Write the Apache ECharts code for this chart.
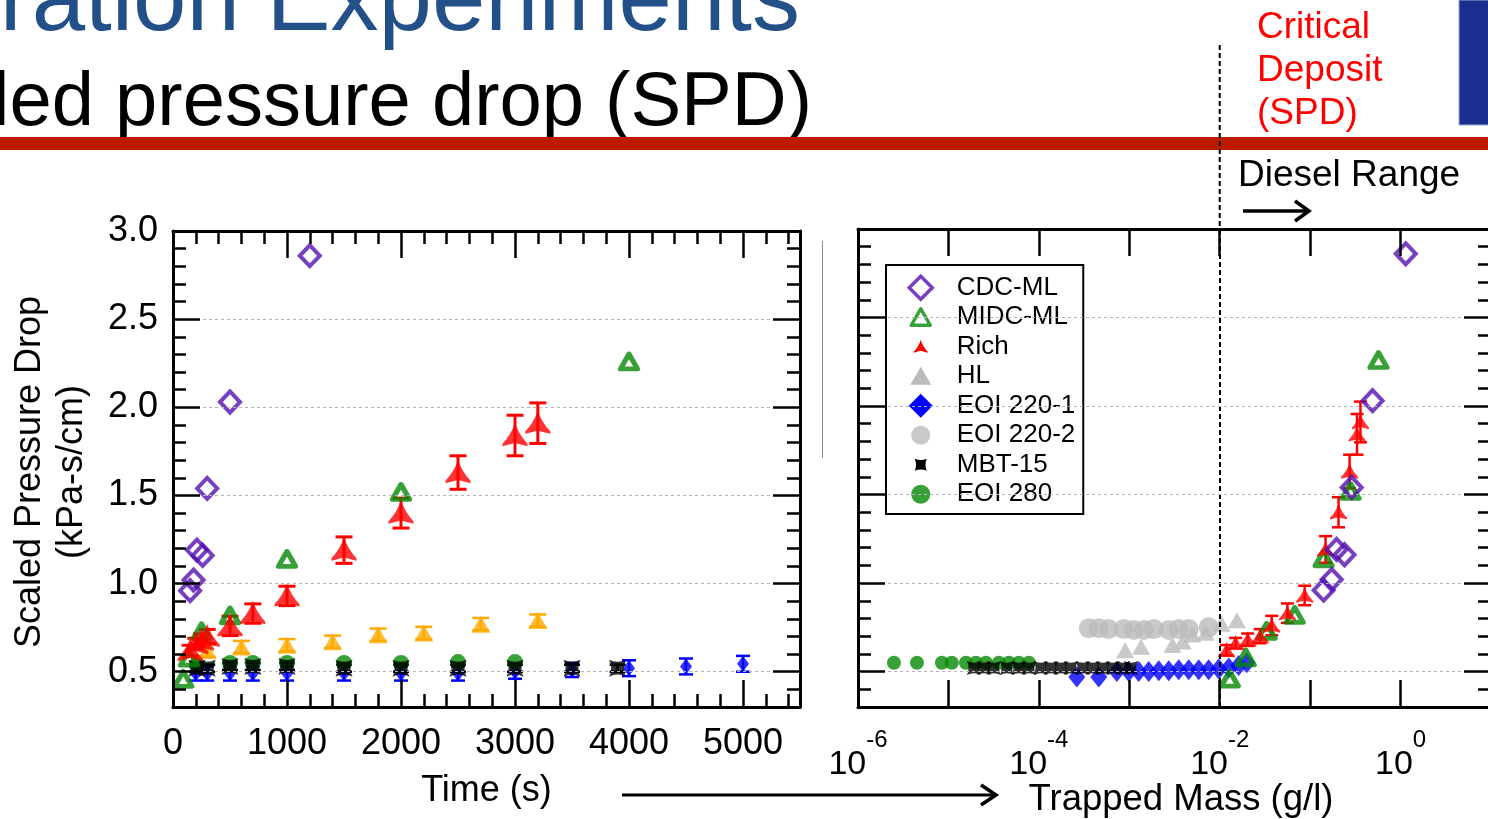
<!DOCTYPE html>
<html>
<head>
<meta charset="utf-8">
<script src="https://cdn.jsdelivr.net/npm/echarts@6/dist/echarts.min.js"></script>
<style>
  html, body { margin: 0; padding: 0; background: #fff; }
  #chart { width: 1488px; height: 819px; }
</style>
</head>
<body>
<div id="chart"></div>
<script>
// ---------- series readings ----------
// CDC-ML
const cdcTime = [150, 180, 210, 260, 300, 500, 1200];
const cdcMass = [0.141, 0.173, 0.196, 0.24, 0.288, 0.49, 1.14];
const cdcSpd  = [0.96, 1.02, 1.19, 1.16, 1.54, 2.03, 2.86];

// MIDC-ML
const midcTime = [90, 140, 250, 500, 1000, 2000, 4000];
const midcMass = [0.0129, 0.0194, 0.033, 0.0675, 0.141, 0.28, 0.57];
const midcSpd  = [0.46, 0.58, 0.73, 0.82, 1.14, 1.52, 2.26];

// Rich
const richTime = [150, 200, 250, 300, 500, 700, 1000, 1500, 2000, 2500, 3000, 3200];
const richMass = [0.0119, 0.015, 0.0204, 0.028, 0.0376, 0.056, 0.087, 0.148, 0.206, 0.273, 0.33, 0.36];
const richSpd  = [0.62, 0.66, 0.68, 0.70, 0.76, 0.83, 0.93, 1.19, 1.40, 1.63, 1.84, 1.91];
const richErr  = [0.03, 0.03, 0.035, 0.04, 0.055, 0.055, 0.055, 0.075, 0.085, 0.095, 0.115, 0.115];

// HL
const hlTime = [300, 600, 1000, 1400, 1800, 2200, 2700, 3200];
const hlMass = [0.0009, 0.00135, 0.003, 0.0039, 0.005, 0.007, 0.0105, 0.0155];
const hlSpd  = [0.62, 0.64, 0.65, 0.67, 0.71, 0.72, 0.77, 0.79];
const hlErr  = [0.035, 0.035, 0.035, 0.035, 0.035, 0.035, 0.035, 0.035];

// EOI 220-1
const eoi1Time    = [200, 300, 500, 700, 1000, 1500, 2000, 2500, 3000, 3500, 4000, 4500, 5000];
const eoi1TimeSpd = [0.49, 0.49, 0.49, 0.49, 0.49, 0.49, 0.49, 0.49, 0.50, 0.51, 0.52, 0.53, 0.545];
const eoi1TimeErr = [0.04, 0.04, 0.04, 0.04, 0.04, 0.04, 0.04, 0.04, 0.04, 0.04, 0.045, 0.045, 0.045];
const eoi1Mass    = [2.63e-4, 4.6e-4, 7.28e-4, 9.86e-4, 1.27e-3, 1.64e-3, 2.12e-3, 2.73e-3,
                     3.52e-3, 4.54e-3, 5.86e-3, 7.55e-3, 9.75e-3, 1.26e-2, 1.62e-2, 1.99e-2];
const eoi1MassSpd = [0.47, 0.47, 0.50, 0.50, 0.50, 0.50, 0.505, 0.505,
                     0.51, 0.51, 0.51, 0.51, 0.515, 0.52, 0.535, 0.55];

// EOI 220-2
const eoi2Mass = [3.56e-4, 4.6e-4, 5.9e-4, 8.7e-4, 1.12e-3, 1.45e-3, 1.87e-3, 2.73e-3, 3.52e-3, 4.54e-3, 7.55e-3];
const eoi2Spd  = [0.745, 0.745, 0.74, 0.74, 0.735, 0.735, 0.74, 0.735, 0.74, 0.74, 0.75];

// MBT-15
const mbtTime    = [210, 300, 500, 700, 1000, 1500, 2000, 2500, 3000, 3500, 3900];
const mbtTimeSpd = [0.52, 0.52, 0.53, 0.53, 0.53, 0.52, 0.52, 0.52, 0.52, 0.52, 0.52];
const mbtTimeErr = [0.02, 0.02, 0.02, 0.02, 0.02, 0.02, 0.02, 0.02, 0.02, 0.02, 0.02];
const mbtMass    = [1.91e-5, 2.47e-5, 3.18e-5, 4.43e-5, 6.0e-5, 7.8e-5, 1.05e-4, 1.36e-4,
                    1.75e-4, 2.26e-4, 3.06e-4, 3.95e-4, 5.1e-4, 6.6e-4, 8.5e-4, 1.04e-3];
const mbtMassSpd = [0.52, 0.52, 0.52, 0.52, 0.52, 0.52, 0.52, 0.52,
                    0.52, 0.52, 0.52, 0.52, 0.52, 0.52, 0.52, 0.52];

// EOI 280
const eoi280Time    = [210, 500, 700, 1000, 1500, 2000, 2500, 3000];
const eoi280TimeSpd = [0.54, 0.55, 0.55, 0.55, 0.55, 0.55, 0.555, 0.555];
const eoi280Mass    = [2.5e-6, 4.49e-6, 8.47e-6, 1.09e-5, 1.56e-5, 2.01e-5, 2.6e-5, 3.61e-5, 4.67e-5, 6.0e-5, 7.76e-5];
const eoi280MassSpd = [0.55, 0.55, 0.55, 0.55, 0.55, 0.55, 0.55, 0.55, 0.55, 0.55, 0.55];

// ---------- axis settings ----------
const spdTicks = [0.5, 1.0, 1.5, 2.0, 2.5, 3.0];
const SPD_MIN = 0.3, SPD_MAX = 3.0, SPD_MINOR = 0.1;
const TIME_MIN = 0, TIME_MAX = 5500, TIME_MAJOR = 1000, TIME_MINOR = 200;
const MASS_MIN = 1e-6, MASS_MAX = 10;
const CRITICAL_MASS = 0.01;

// ---------- styling ----------
const FONT = "'Liberation Sans', Arial, Helvetica, sans-serif";
const PURPLE = '#5410B0', GREEN = '#058805', RED = '#FF0000', ORANGE = '#FFAA00';
const GRAY = '#BBBBBB', BLUE = '#0000FF', BLACK = '#000000', NONE = 'rgba(0,0,0,0)';
const MINOR_LEN = 13, MAJOR_LEN = 27;

// marker paths (symmetric frame so the shape keeps its proportions)
const RICH_PATH = 'path://M-10,-10 M10,10 M0,-10 Q3.5,0 10,6.5 L10,8.5 L0,6 L-10,8.5 L-10,6.5 Q-3.5,0 0,-10 Z';
const MBT_PATH  = 'path://M-10,-10 Q0,-5 10,-10 Q5,0 10,10 Q0,5 -10,10 Q-5,0 -10,-10 Z';

// legend icons: 44x26 frame, shape centred in the left 26px
const FR = 'path://M-13,-13 M31,13 ';
const ICON = {
  cdc:  FR + 'M0,-11.5 L11.5,0 L0,11.5 L-11.5,0 Z',
  midc: FR + 'M0,-8.5 L9.5,8 L-9.5,8 Z',
  rich: FR + 'M0,-7 Q2,0 7,5 L7,6 L0,4 L-7,6 L-7,5 Q-2,0 0,-7 Z',
  hl:   FR + 'M0,-9.5 L10.5,8.5 L-10.5,8.5 Z',
  eoi1: FR + 'M0,-12 L12,0 L0,12 L-12,0 Z',
  circ: FR + 'M-9.5,0 A9.5,9.5 0 1,1 9.5,0 A9.5,9.5 0 1,1 -9.5,0 Z',
  mbt:  FR + 'M-6,-6 Q0,-3.5 6,-6 Q3.5,0 6,6 Q0,3.5 -6,6 Q-3.5,0 -6,-6 Z'
};
// every legend icon carries the same stroke width so all rows share one height
const ICON_STROKE = 3.5;

const zip = (xs, ys) => xs.map((x, i) => [x, ys[i]]);
const L_AX = { xAxisIndex: 0, yAxisIndex: 0 };
const R_AX = { xAxisIndex: 4, yAxisIndex: 4 };

function scatter(name, ax, xs, ys, symbol, size, itemStyle) {
  return Object.assign({
    type: 'scatter', name, data: zip(xs, ys), symbol, symbolSize: size,
    itemStyle, silent: true, animation: false, emphasis: { disabled: true }
  }, ax);
}

function errorBars(name, ax, xs, ys, errs, color, capW, lw) {
  return Object.assign({
    type: 'custom', name, silent: true, animation: false,
    data: xs.map((x, i) => [x, ys[i] - errs[i], ys[i] + errs[i]]),
    encode: { x: 0, y: [1, 2] },
    renderItem: (params, api) => {
      const lo = api.coord([api.value(0), api.value(1)]);
      const hi = api.coord([api.value(0), api.value(2)]);
      const h = capW / 2;
      const st = { stroke: color, lineWidth: lw };
      return {
        type: 'group', children: [
          { type: 'line', shape: { x1: lo[0], y1: lo[1], x2: hi[0], y2: hi[1] }, style: st },
          { type: 'line', shape: { x1: lo[0] - h, y1: lo[1], x2: lo[0] + h, y2: lo[1] }, style: st },
          { type: 'line', shape: { x1: hi[0] - h, y1: hi[1], x2: hi[0] + h, y2: hi[1] }, style: st }
        ]
      };
    }
  }, ax);
}

// one axis of the framed plots: ticks point inward
function frameAxis(type, grid, position, len, extra) {
  return Object.assign({
    type, gridIndex: grid, position,
    axisLine: { show: false, onZero: false, lineStyle: { color: BLACK, width: 3 } },
    axisTick: { show: true, inside: true, length: len, lineStyle: { color: BLACK, width: 2.5 } },
    axisLabel: { show: false },
    splitLine: { show: false },
    z: 10
  }, extra || {});
}

const lineOn = { show: true, onZero: false, lineStyle: { color: BLACK, width: 3 } };
const gridDash = {
  show: true,
  lineStyle: { color: [NONE, NONE, '#B4B4B4', NONE, NONE], width: 1, type: [3, 3] }
};
const labelFont = { fontFamily: FONT, fontSize: 36, color: BLACK };

function spdMinor(grid, pos, withGrid) {
  return frameAxis('value', grid, pos, MINOR_LEN, {
    min: SPD_MIN, max: SPD_MAX, interval: SPD_MINOR, axisLine: lineOn,
    splitLine: withGrid ? gridDash : { show: false }
  });
}
function spdMajor(grid, pos, withLabels) {
  const a = frameAxis('value', grid, pos, MAJOR_LEN, { min: SPD_MIN, max: SPD_MAX });
  a.axisTick.customValues = spdTicks;
  if (withLabels) {
    a.axisLabel = Object.assign({ show: true, customValues: spdTicks, margin: 15,
      formatter: v => Number(v).toFixed(1) }, labelFont);
  }
  return a;
}
function timeAxis(pos, major, withLabels) {
  const a = frameAxis('value', 0, pos, major ? MAJOR_LEN : MINOR_LEN, {
    min: TIME_MIN, max: TIME_MAX, interval: major ? TIME_MAJOR : TIME_MINOR
  });
  if (!major) a.axisLine = lineOn;
  if (withLabels) {
    a.axisLabel = Object.assign({ show: true, margin: 19,
      formatter: v => (v % TIME_MAJOR === 0 ? String(v) : '') }, labelFont);
    a.name = 'Time (s)';
    a.nameLocation = 'middle';
    a.nameGap = 66;
    a.nameTextStyle = labelFont;
  }
  return a;
}
function massAxis(pos, withLabels) {
  const a = frameAxis('log', 1, pos, MAJOR_LEN, {
    logBase: 10, min: MASS_MIN, max: MASS_MAX, axisLine: lineOn
  });
  if (withLabels) {
    a.axisLabel = {
      show: true, margin: 21,
      formatter: v => {
        const e = Math.round(Math.log10(v));
        return e % 2 === 0 ? '{b|10}{s|' + e + '}' : '';
      },
      rich: {
        b: { fontFamily: FONT, fontSize: 34, color: BLACK, lineHeight: 54, verticalAlign: 'bottom' },
        s: { fontFamily: FONT, fontSize: 24, color: BLACK, lineHeight: 22, verticalAlign: 'top' }
      }
    };
  }
  return a;
}

const series = [
  // time plot
  errorBars('EOI 220-1', L_AX, eoi1Time, eoi1TimeSpd, eoi1TimeErr, BLUE, 14, 2.5),
  scatter('EOI 220-1', L_AX, eoi1Time, eoi1TimeSpd, 'diamond', [12, 16], { color: BLUE }),
  scatter('EOI 280', L_AX, eoi280Time, eoi280TimeSpd, 'circle', 16, { color: GREEN }),
  errorBars('MBT-15', L_AX, mbtTime, mbtTimeSpd, mbtTimeErr, BLACK, 16, 2.5),
  scatter('MBT-15', L_AX, mbtTime, mbtTimeSpd, MBT_PATH, 17, { color: BLACK }),
  errorBars('HL', L_AX, hlTime, hlSpd, hlErr, ORANGE, 17, 2.5),
  scatter('HL', L_AX, hlTime, hlSpd, 'triangle', [19, 17], { color: ORANGE }),
  scatter('MIDC-ML', L_AX, midcTime, midcSpd, 'triangle', [17, 15],
    { color: NONE, borderColor: GREEN, borderWidth: 5, borderJoin: 'round' }),
  errorBars('Rich', L_AX, richTime, richSpd, richErr, RED, 17, 3),
  scatter('Rich', L_AX, richTime, richSpd, RICH_PATH, 25, { color: RED }),
  scatter('CDC-ML', L_AX, cdcTime, cdcSpd, 'diamond', [20, 21],
    { color: NONE, borderColor: PURPLE, borderWidth: 4 }),

  // trapped-mass plot
  scatter('EOI 220-2', R_AX, eoi2Mass, eoi2Spd, 'circle', 20, { color: GRAY }),
  scatter('HL', R_AX, hlMass, hlSpd, 'triangle', [18, 16], { color: GRAY }),
  Object.assign(scatter('EOI 220-1', R_AX, eoi1Mass, eoi1MassSpd, 'diamond', [17, 21], { color: BLUE }), {
    markLine: {
      silent: true, animation: false, symbol: ['none', 'none'], label: { show: false },
      lineStyle: { color: BLACK, width: 2, type: [5, 3] },
      data: [{ xAxis: CRITICAL_MASS }]
    }
  }),
  scatter('EOI 280', R_AX, eoi280Mass, eoi280MassSpd, 'circle', 14, { color: GREEN }),
  scatter('MBT-15', R_AX, mbtMass, mbtMassSpd, MBT_PATH, 14, { color: BLACK }),
  scatter('MIDC-ML', R_AX, midcMass, midcSpd, 'triangle', [17, 15],
    { color: NONE, borderColor: GREEN, borderWidth: 5, borderJoin: 'round' }),
  errorBars('Rich', R_AX, richMass, richSpd, richErr, RED, 13, 2.5),
  scatter('Rich', R_AX, richMass, richSpd, RICH_PATH, 17, { color: RED }),
  scatter('CDC-ML', R_AX, cdcMass, cdcSpd, 'diamond', [20, 21],
    { color: NONE, borderColor: PURPLE, borderWidth: 4 })
];

const textStyle = (size, color) => ({ fontFamily: FONT, fontSize: size, fill: color });

const graphics = [
  { id: 'title', type: 'text', x: 800, y: 4, silent: true,
    style: Object.assign({ text: 'Filtration Experiments', align: 'right', verticalAlign: 'middle' }, textStyle(96, '#24508A')) },
  { id: 'subtitle', type: 'text', x: 812, y: 104, silent: true,
    style: Object.assign({ text: 'Scaled pressure drop (SPD)', align: 'right', verticalAlign: 'middle' }, textStyle(76, BLACK)) },
  { id: 'bar', type: 'rect', silent: true, shape: { x: 0, y: 137, width: 1488, height: 13 }, style: { fill: '#BC1B00' } },
  { id: 'block', type: 'rect', silent: true, shape: { x: 1459, y: 0, width: 30, height: 125 },
    style: { fill: '#1B2E8E', stroke: '#9AA6D4', lineWidth: 1 } },
  { id: 'critical', type: 'text', x: 1257, y: 6, silent: true,
    style: Object.assign({ text: 'Critical\nDeposit\n(SPD)', align: 'left', verticalAlign: 'top', lineHeight: 43 }, textStyle(37, RED)) },
  { id: 'diesel', type: 'text', x: 1238, y: 176, silent: true,
    style: Object.assign({ text: 'Diesel Range', align: 'left', verticalAlign: 'middle' }, textStyle(37, BLACK)) },
  { id: 'dieselArrow', type: 'polyline', silent: true, shape: { points: [[1243, 211], [1307, 211]] },
    style: { stroke: BLACK, lineWidth: 3.5, fill: null } },
  { id: 'dieselHead', type: 'polyline', silent: true, shape: { points: [[1295, 201], [1309, 211], [1295, 221]] },
    style: { stroke: BLACK, lineWidth: 3.5, fill: null } },
  { id: 'massArrow', type: 'polyline', silent: true, shape: { points: [[622, 795], [994, 795]] },
    style: { stroke: BLACK, lineWidth: 3, fill: null } },
  { id: 'massHead', type: 'polyline', silent: true, shape: { points: [[981, 785], [996, 795], [981, 805]] },
    style: { stroke: BLACK, lineWidth: 3.5, fill: null } },
  { id: 'yTitle', type: 'text', x: 51, y: 472, rotation: Math.PI / 2, silent: true,
    style: Object.assign({ text: 'Scaled Pressure Drop\n(kPa-s/cm)', align: 'center', verticalAlign: 'middle', lineHeight: 42 }, textStyle(36, BLACK)) },
  { id: 'massTitle', type: 'text', x: 1181, y: 800, silent: true,
    style: Object.assign({ text: 'Trapped Mass (g/l)', align: 'center', verticalAlign: 'middle' }, textStyle(36.5, BLACK)) },
  { id: 'divider', type: 'line', silent: true, shape: { x1: 822.5, y1: 241, x2: 822.5, y2: 458 },
    style: { stroke: '#8C8C8C', lineWidth: 1 } }
];

const filledIcon = color => ({ color, borderColor: NONE, borderWidth: ICON_STROKE });
const outlineIcon = color => ({ color: NONE, borderColor: color, borderWidth: ICON_STROKE });

const option = {
  animation: false,
  backgroundColor: '#ffffff',
  grid: [
    { left: 173, top: 231, width: 627, height: 476, containLabel: false, outerBoundsMode: 'none' },
    { left: 858, top: 229, width: 633, height: 478, containLabel: false, outerBoundsMode: 'none' }
  ],
  xAxis: [
    timeAxis('bottom', false, false),
    timeAxis('bottom', true, true),
    timeAxis('top', false, false),
    timeAxis('top', true, false),
    massAxis('bottom', true),
    massAxis('top', false)
  ],
  yAxis: [
    spdMinor(0, 'left', true),
    spdMajor(0, 'left', true),
    spdMinor(0, 'right', false),
    spdMajor(0, 'right', false),
    spdMinor(1, 'left', true),
    spdMajor(1, 'left', false),
    spdMinor(1, 'right', false),
    spdMajor(1, 'right', false)
  ],
  legend: {
    left: 886, top: 265, orient: 'vertical', selectedMode: false,
    padding: [8, 8, 5, 20], itemWidth: 44, itemHeight: 26, itemGap: 0,
    backgroundColor: '#ffffff', borderColor: BLACK, borderWidth: 2, borderRadius: 0,
    textStyle: { fontFamily: FONT, fontSize: 26, color: BLACK, lineHeight: 26 },
    data: [
      { name: 'CDC-ML', icon: ICON.cdc, itemStyle: outlineIcon(PURPLE) },
      { name: 'MIDC-ML', icon: ICON.midc, itemStyle: outlineIcon(GREEN) },
      { name: 'Rich', icon: ICON.rich, itemStyle: filledIcon(RED) },
      { name: 'HL', icon: ICON.hl, itemStyle: filledIcon(GRAY) },
      { name: 'EOI 220-1', icon: ICON.eoi1, itemStyle: filledIcon(BLUE) },
      { name: 'EOI 220-2', icon: ICON.circ, itemStyle: filledIcon(GRAY) },
      { name: 'MBT-15', icon: ICON.mbt, itemStyle: filledIcon(BLACK) },
      { name: 'EOI 280', icon: ICON.circ, itemStyle: filledIcon(GREEN) }
    ]
  },
  graphic: graphics,
  series
};

const chart = echarts.init(document.getElementById('chart'), null, { renderer: 'canvas' });
chart.setOption(option);

// continue the critical-deposit marker above the mass plot
const critX = chart.convertToPixel({ xAxisIndex: 4 }, CRITICAL_MASS);
chart.setOption({
  graphic: [{
    id: 'critLine', type: 'line', silent: true,
    shape: { x1: critX, y1: 45, x2: critX, y2: 229 },
    style: { stroke: BLACK, lineWidth: 2, lineDash: [5, 3] }
  }]
});
</script>
</body>
</html>
